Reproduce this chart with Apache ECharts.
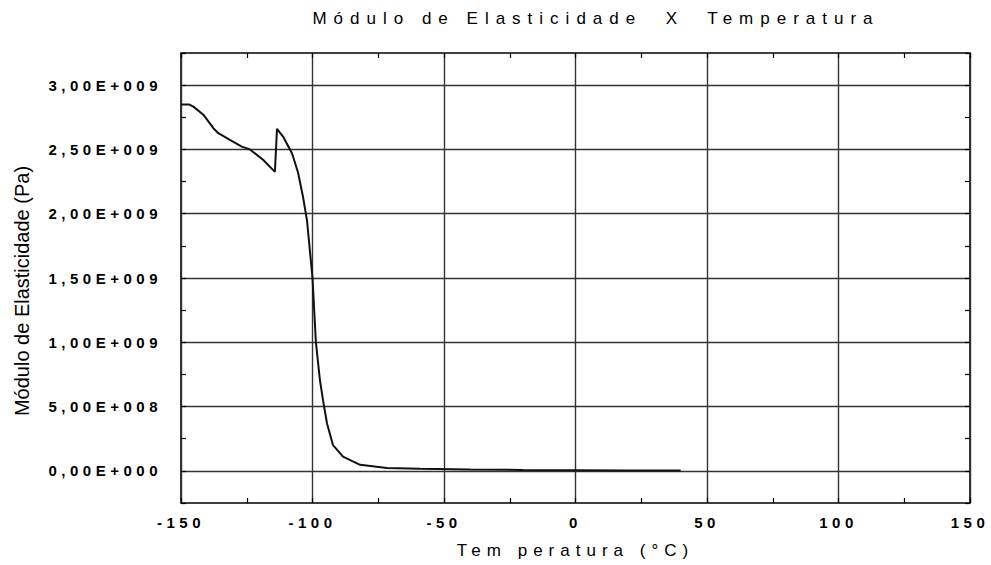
<!DOCTYPE html>
<html>
<head>
<meta charset="utf-8">
<script src="https://cdn.jsdelivr.net/npm/echarts@6/dist/echarts.min.js"></script>
<style>
  html, body { margin: 0; padding: 0; background: #fff; }
  #chart { width: 991px; height: 565px; }
</style>
</head>
<body>
<div id="chart"></div>
<script>
// Storage modulus measured over the temperature sweep
const temperatures = [-150, -147, -145.3, -141.5, -137.7, -135.8, -131.4, -126.9, -123.8, -118.8, -114.3,
  -113.5, -111.2, -107.8, -105.5, -103.6, -102.1, -100, -98.7, -97.2, -96.0, -94.5, -92.2, -88.4,
  -81.9, -71.7, -59.1, -40, -20, 0, 20, 40];
const modulus = [2.85e9, 2.85e9, 2.833e9, 2.77e9, 2.665e9, 2.626e9, 2.574e9, 2.522e9, 2.50e9, 2.42e9, 2.325e9,
  2.66e9, 2.60e9, 2.47e9, 2.32e9, 2.13e9, 1.95e9, 1.50e9, 1.00e9, 0.71e9, 0.55e9, 0.37e9, 0.20e9, 0.11e9,
  0.047e9, 0.023e9, 0.016e9, 0.010e9, 0.007e9, 0.005e9, 0.003e9, 0.002e9];

// Axis tick labels
const xTickValues = [-150, -100, -50, 0, 50, 100, 150];
const xTickLabels = ['-150', '-100', '-50', '0', '50', '100', '150'];
const yTickValues = [0, 5e8, 1e9, 1.5e9, 2e9, 2.5e9, 3e9];
const yTickLabels = ['0,00E+000', '5,00E+008', '1,00E+009', '1,50E+009', '2,00E+009', '2,50E+009', '3,00E+009'];

const titleText = 'Módulo de Elasticidade  X  Temperatura';
const xName = 'Tem peratura (°C)';
const yName = 'Módulo de Elasticidade (Pa)';

function lookup(values, labels, v, tol) {
  for (let i = 0; i < values.length; i++) {
    if (Math.abs(values[i] - v) < tol) return labels[i];
  }
  return '';
}

const FONT = 'Liberation Sans, Arial, sans-serif';
const GRID_COLOR = '#333';
const INK = '#000';

const chart = echarts.init(document.getElementById('chart'), null, { renderer: 'svg' });

const baseX = {
  type: 'value', min: -150, max: 150, interval: 25,
  axisLine: { show: false, onZero: false },
  axisTick: { show: true, inside: true, length: 5, lineStyle: { color: INK, width: 1.2 } },
  splitLine: { show: false }
};
const baseY = {
  type: 'value', min: -2.5e8, max: 3.25e9, interval: 2.5e8,
  axisLine: { show: false, onZero: false },
  axisTick: { show: true, inside: true, length: 5, lineStyle: { color: INK, width: 1.2 } },
  splitLine: { show: false }
};

chart.setOption({
  animation: false,
  backgroundColor: '#fff',
  grid: {
    left: 181, right: 21, top: 53, bottom: 62,
    show: true, borderColor: INK, borderWidth: 1.6, backgroundColor: 'transparent'
  },
  xAxis: [
    Object.assign({}, baseX, {
      position: 'bottom',
      axisLabel: {
        margin: 12, fontSize: 15, fontWeight: 'bold', color: INK, fontFamily: FONT,
        formatter: v => lookup(xTickValues, xTickLabels, v, 1e-6)
      },
      splitLine: { show: true, lineStyle: { color: [GRID_COLOR, 'rgba(0,0,0,0)'], width: 1.4 } },
      name: xName, nameLocation: 'middle', nameGap: 39,
      nameTextStyle: { fontSize: 17, color: INK, fontFamily: FONT }
    }),
    Object.assign({}, baseX, { position: 'top', axisLabel: { show: false } })
  ],
  yAxis: [
    Object.assign({}, baseY, {
      position: 'left',
      axisLabel: {
        margin: 19, fontSize: 15, fontWeight: 'bold', color: INK, fontFamily: FONT,
        formatter: v => lookup(yTickValues, yTickLabels, v, 1e3)
      },
      splitLine: { show: true, lineStyle: { color: ['rgba(0,0,0,0)', GRID_COLOR], width: 1.4 } }
    }),
    Object.assign({}, baseY, { position: 'right', axisLabel: { show: false } })
  ],
  graphic: [
    {
      type: 'text', x: 596, y: 18,
      style: { text: titleText, fontSize: 17, fill: INK, fontFamily: FONT, align: 'center', verticalAlign: 'middle' }
    },
    {
      type: 'text', x: 22, y: 291, rotation: Math.PI / 2,
      style: { text: yName, fontSize: 20, fill: INK, fontFamily: FONT, align: 'center', verticalAlign: 'middle' }
    }
  ],
  series: [{
    type: 'line',
    xAxisIndex: 0, yAxisIndex: 0,
    data: temperatures.map((t, i) => [t, modulus[i]]),
    showSymbol: false, symbol: 'none',
    lineStyle: { color: '#111', width: 2 },
    z: 5
  }]
});

// Wide letter spacing used by the original plotting software
function spaceLetters() {
  const texts = document.querySelectorAll('#chart svg text');
  texts.forEach(el => {
    const s = el.textContent || '';
    if (s === titleText) el.style.letterSpacing = '7px';
    else if (s === xName) el.style.letterSpacing = '6px';
    else if (/E\+\d{3}$/.test(s) || /^-?\d+$/.test(s)) el.style.letterSpacing = '4.5px';
  });
}
chart.on('finished', spaceLetters);
spaceLetters();
</script>
</body>
</html>
